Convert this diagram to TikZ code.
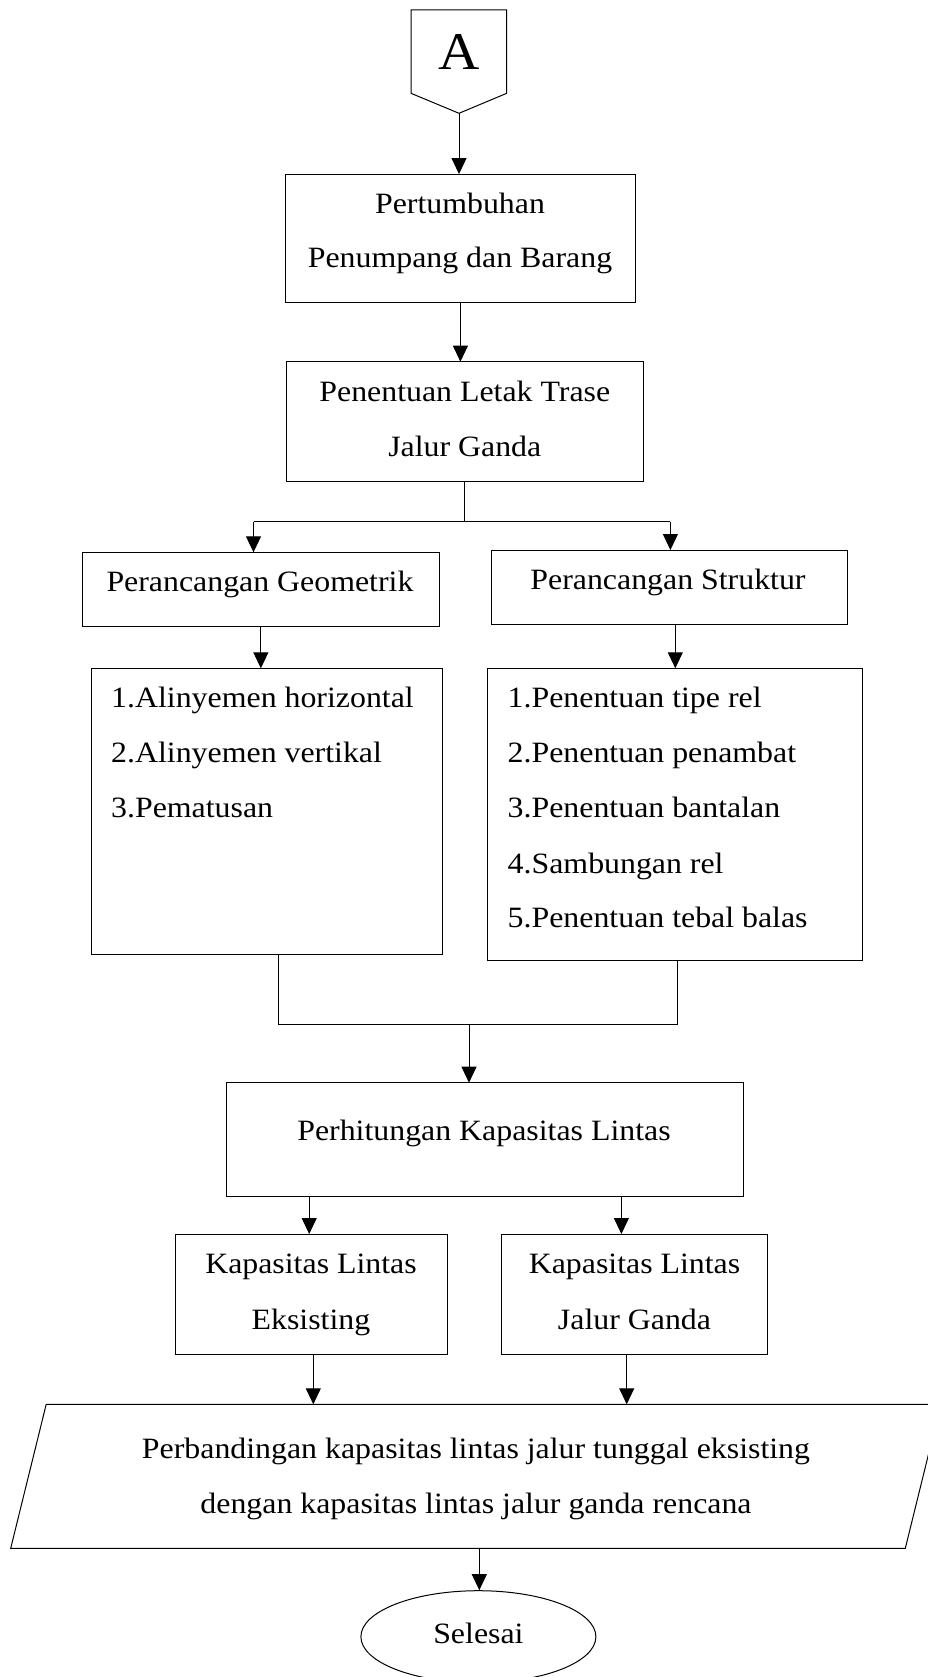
\documentclass[tikz,border=0pt]{standalone}
\usepackage{fontspec}
\setmainfont{Liberation Serif}[FakeStretch=1.08]
\usetikzlibrary{arrows.meta,shapes.geometric}
\begin{document}
\begin{tikzpicture}[x=1pt,y=-1pt,
  line width=1pt,
  box/.style={draw, rectangle, inner sep=0pt, outer sep=0pt},
  txt/.style={inner sep=0pt, anchor=base, font=\fontsize{29.5}{35}\selectfont},
  ltxt/.style={inner sep=0pt, anchor=base west, font=\fontsize{29.5}{35}\selectfont},
  arr/.style={-{Triangle[length=16pt,width=15pt]}}]
\path[use as bounding box] (0,0) rectangle (928,1677);
\clip (0,0) rectangle (928,1677);

% Off-page connector A
\coordinate (Abot) at (459,113.3);
\draw (411,10) -- (506.7,10) -- (506.7,93.3) -- (Abot) -- (411,93.3) -- cycle;
\node[inner sep=0pt, anchor=base, font=\fontsize{53}{60}\selectfont] (tA) at (459,70) {A};

% Box 1
\node[box, minimum width=350.7pt, minimum height=128.3pt] (b1) at (460.4,238.2) {};
\node[txt] (t1a) at (460,213.3) {Pertumbuhan};
\node[txt] (t1b) at (460,267.7) {Penumpang dan Barang};

% Box 2
\node[box, minimum width=356.7pt, minimum height=120pt] (b2) at (464.9,421.7) {};
\node[txt] (t2a) at (464.8,401.7) {Penentuan Letak Trase};
\node[txt] (t2b) at (464.8,456.7) {Jalur Ganda};

% Geometrik / Struktur
\node[box, minimum width=356.7pt, minimum height=73.7pt] (geo) at (260.85,589.15) {};
\node[txt] (tgeo) at (260,591.7) {Perancangan Geometrik};
\node[box, minimum width=355.6pt, minimum height=74pt] (str) at (669.3,587) {};
\node[txt] (tstr) at (668,589.3) {Perancangan Struktur};

% Lists
\node[box, minimum width=351.4pt, minimum height=285.7pt] (lstL) at (267.1,811.15) {};
\node[ltxt] (l1) at (110.7,707.7) {1.Alinyemen horizontal};
\node[ltxt] (l2) at (110.7,762.7) {2.Alinyemen vertikal};
\node[ltxt] (l3) at (110.7,817.2) {3.Pematusan};
\node[box, minimum width=375.5pt, minimum height=291.7pt] (lstR) at (675.05,814.15) {};
\node[ltxt] (r1) at (507.2,707.7) {1.Penentuan tipe rel};
\node[ltxt] (r2) at (507.2,762.7) {2.Penentuan penambat};
\node[ltxt] (r3) at (507.2,817.2) {3.Penentuan bantalan};
\node[ltxt] (r4) at (507.2,873.3) {4.Sambungan rel};
\node[ltxt] (r5) at (507.2,927.5) {5.Penentuan tebal balas};

% Perhitungan
\node[box, minimum width=516.3pt, minimum height=113.3pt] (calc) at (484.85,1139.35) {};
\node[txt] (tcalc) at (484,1140) {Perhitungan Kapasitas Lintas};

% Kapasitas boxes
\node[box, minimum width=271.8pt, minimum height=120.3pt] (kle) at (311.2,1294.15) {};
\node[txt] (tkle1) at (311,1273.3) {Kapasitas Lintas};
\node[txt] (tkle2) at (311,1329.3) {Eksisting};
\node[box, minimum width=266.1pt, minimum height=120.3pt] (klj) at (634.05,1294.15) {};
\node[txt] (tklj1) at (634.5,1273.3) {Kapasitas Lintas};
\node[txt] (tklj2) at (634.5,1329.3) {Jalur Ganda};

% Parallelogram
\coordinate (pTL) at (46.2,1404.3);
\coordinate (pTR) at (940.8,1404.3);
\coordinate (pBR) at (905.3,1548.3);
\coordinate (pBL) at (10.7,1548.3);
\draw (pTL) -- (pTR) -- (pBR) -- (pBL) -- cycle;
\node[txt] (tp1) at (476,1458.3) {Perbandingan kapasitas lintas jalur tunggal eksisting};
\node[txt] (tp2) at (476,1513.3) {dengan kapasitas lintas jalur ganda rencana};
\coordinate (pOut) at (479.3,1548.3);

% Ellipse
\node[draw, ellipse, inner sep=0pt, minimum width=235pt, minimum height=92pt] (end) at (478.4,1636.7) {};
\node[txt] (tend) at (478.4,1643) {Selesai};

% Connectors
\draw[arr] (Abot) -- (Abot |- b1.north);
\draw[arr] (b1.south) -- (b1.south |- b2.north);
\coordinate (sL) at (253.5,521.7);
\coordinate (sR) at (670.4,521.7);
\draw (b2.south) -- (b2.south |- sL);
\draw (sL) -- (sR);
\draw[arr] (sL) -- (sL |- geo.north);
\draw[arr] (sR) -- (sR |- str.north);
\draw[arr] (geo.south) -- (geo.south |- lstL.north);
\coordinate (sS) at (675.3,624);
\draw[arr] (sS) -- (sS |- lstR.north);
\coordinate (mL) at (278.6,1024);
\coordinate (mR) at (677.2,1024);
\coordinate (mC) at (469,1024);
\draw (mL |- lstL.south) -- (mL) -- (mR) -- (mR |- lstR.south);
\draw[arr] (mC) -- (mC |- calc.north);
\coordinate (cL) at (309.2,1196);
\coordinate (cR) at (621.4,1196);
\draw[arr] (cL) -- (cL |- kle.north);
\draw[arr] (cR) -- (cR |- klj.north);
\coordinate (kL) at (313.3,1354.3);
\coordinate (kR) at (626.7,1354.3);
\draw[arr] (kL) -- (kL |- pTL);
\draw[arr] (kR) -- (kR |- pTL);
\draw[arr] (pOut) -- (pOut |- end.north);
\end{tikzpicture}
\end{document}
